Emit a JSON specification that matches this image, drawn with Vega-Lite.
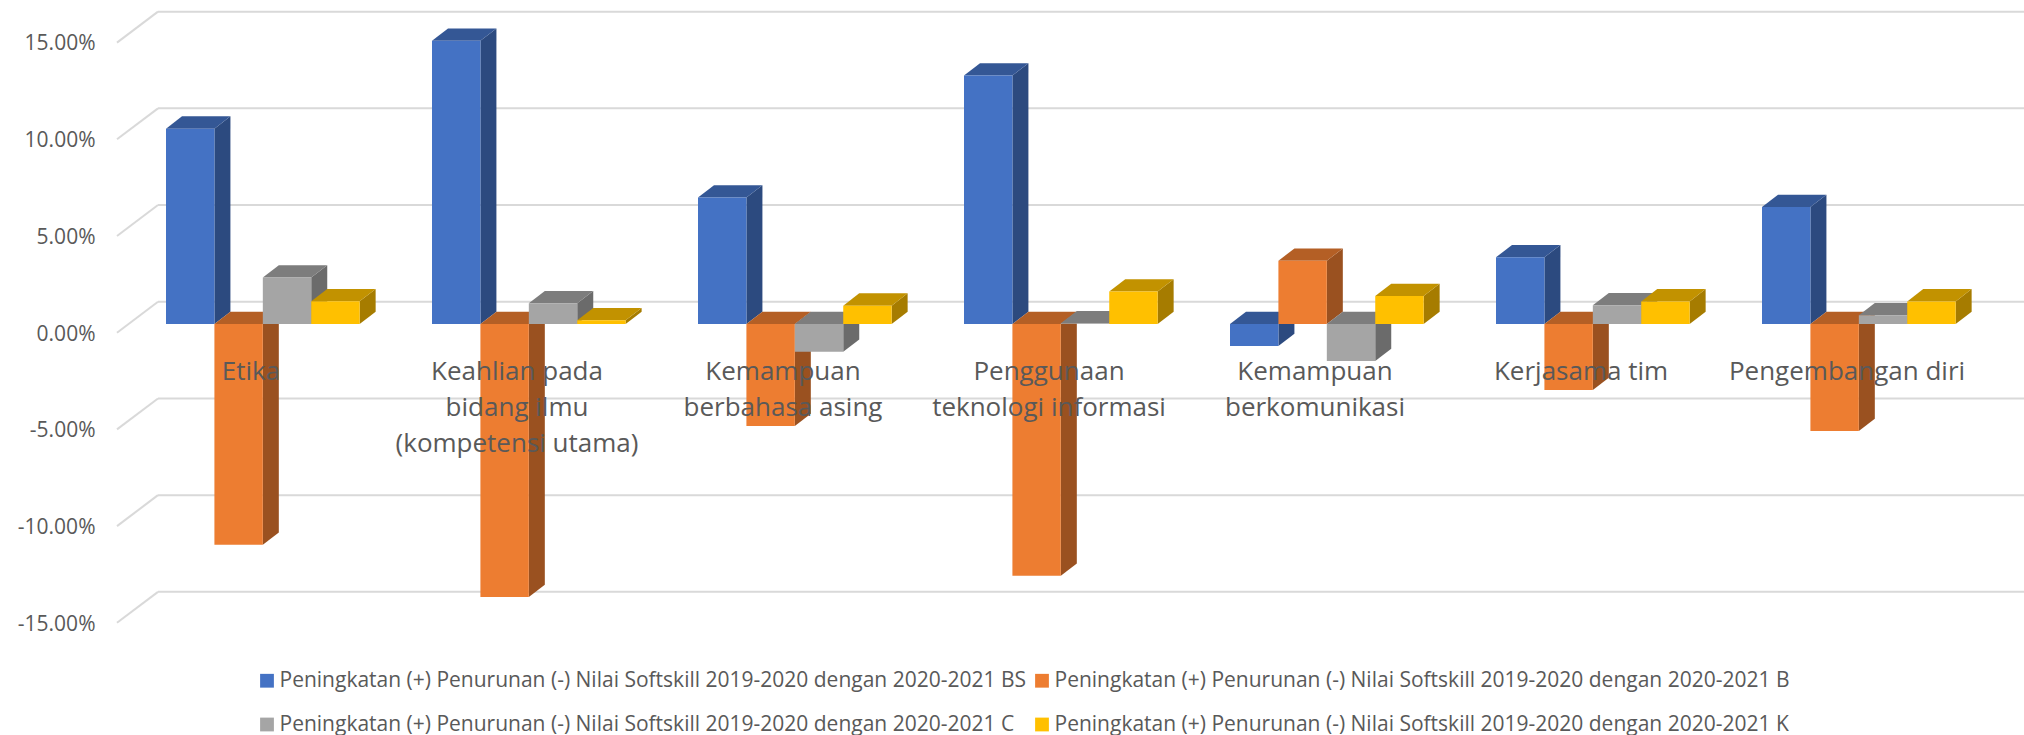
{
"$schema":"https://vega.github.io/schema/vega-lite/v6.json",
"width":2024,"height":735,"padding":0,"autosize":{"type":"none"},
"background":"white",
"config":{"view":{"stroke":null},"font":"Open Sans"},
"data":{"values":[
{"kategori":"Etika","seri":"Peningkatan (+) Penurunan (-) Nilai Softskill 2019-2020 dengan 2020-2021 BS","nilai":0.1010},
{"kategori":"Etika","seri":"Peningkatan (+) Penurunan (-) Nilai Softskill 2019-2020 dengan 2020-2021 B","nilai":-0.1142},
{"kategori":"Etika","seri":"Peningkatan (+) Penurunan (-) Nilai Softskill 2019-2020 dengan 2020-2021 C","nilai":0.0240},
{"kategori":"Etika","seri":"Peningkatan (+) Penurunan (-) Nilai Softskill 2019-2020 dengan 2020-2021 K","nilai":0.0118},
{"kategori":"Keahlian pada bidang ilmu (kompetensi utama)","seri":"Peningkatan (+) Penurunan (-) Nilai Softskill 2019-2020 dengan 2020-2021 BS","nilai":0.1464},
{"kategori":"Keahlian pada bidang ilmu (kompetensi utama)","seri":"Peningkatan (+) Penurunan (-) Nilai Softskill 2019-2020 dengan 2020-2021 B","nilai":-0.1412},
{"kategori":"Keahlian pada bidang ilmu (kompetensi utama)","seri":"Peningkatan (+) Penurunan (-) Nilai Softskill 2019-2020 dengan 2020-2021 C","nilai":0.0107},
{"kategori":"Keahlian pada bidang ilmu (kompetensi utama)","seri":"Peningkatan (+) Penurunan (-) Nilai Softskill 2019-2020 dengan 2020-2021 K","nilai":0.0019},
{"kategori":"Kemampuan berbahasa asing","seri":"Peningkatan (+) Penurunan (-) Nilai Softskill 2019-2020 dengan 2020-2021 BS","nilai":0.0654},
{"kategori":"Kemampuan berbahasa asing","seri":"Peningkatan (+) Penurunan (-) Nilai Softskill 2019-2020 dengan 2020-2021 B","nilai":-0.0528},
{"kategori":"Kemampuan berbahasa asing","seri":"Peningkatan (+) Penurunan (-) Nilai Softskill 2019-2020 dengan 2020-2021 C","nilai":-0.0144},
{"kategori":"Kemampuan berbahasa asing","seri":"Peningkatan (+) Penurunan (-) Nilai Softskill 2019-2020 dengan 2020-2021 K","nilai":0.0095},
{"kategori":"Penggunaan teknologi informasi","seri":"Peningkatan (+) Penurunan (-) Nilai Softskill 2019-2020 dengan 2020-2021 BS","nilai":0.1285},
{"kategori":"Penggunaan teknologi informasi","seri":"Peningkatan (+) Penurunan (-) Nilai Softskill 2019-2020 dengan 2020-2021 B","nilai":-0.1302},
{"kategori":"Penggunaan teknologi informasi","seri":"Peningkatan (+) Penurunan (-) Nilai Softskill 2019-2020 dengan 2020-2021 C","nilai":0.0004},
{"kategori":"Penggunaan teknologi informasi","seri":"Peningkatan (+) Penurunan (-) Nilai Softskill 2019-2020 dengan 2020-2021 K","nilai":0.0168},
{"kategori":"Kemampuan berkomunikasi","seri":"Peningkatan (+) Penurunan (-) Nilai Softskill 2019-2020 dengan 2020-2021 BS","nilai":-0.0114},
{"kategori":"Kemampuan berkomunikasi","seri":"Peningkatan (+) Penurunan (-) Nilai Softskill 2019-2020 dengan 2020-2021 B","nilai":0.0327},
{"kategori":"Kemampuan berkomunikasi","seri":"Peningkatan (+) Penurunan (-) Nilai Softskill 2019-2020 dengan 2020-2021 C","nilai":-0.0191},
{"kategori":"Kemampuan berkomunikasi","seri":"Peningkatan (+) Penurunan (-) Nilai Softskill 2019-2020 dengan 2020-2021 K","nilai":0.0145},
{"kategori":"Kerjasama tim","seri":"Peningkatan (+) Penurunan (-) Nilai Softskill 2019-2020 dengan 2020-2021 BS","nilai":0.0345},
{"kategori":"Kerjasama tim","seri":"Peningkatan (+) Penurunan (-) Nilai Softskill 2019-2020 dengan 2020-2021 B","nilai":-0.0341},
{"kategori":"Kerjasama tim","seri":"Peningkatan (+) Penurunan (-) Nilai Softskill 2019-2020 dengan 2020-2021 C","nilai":0.0097},
{"kategori":"Kerjasama tim","seri":"Peningkatan (+) Penurunan (-) Nilai Softskill 2019-2020 dengan 2020-2021 K","nilai":0.0117},
{"kategori":"Pengembangan diri","seri":"Peningkatan (+) Penurunan (-) Nilai Softskill 2019-2020 dengan 2020-2021 BS","nilai":0.0605},
{"kategori":"Pengembangan diri","seri":"Peningkatan (+) Penurunan (-) Nilai Softskill 2019-2020 dengan 2020-2021 B","nilai":-0.0553},
{"kategori":"Pengembangan diri","seri":"Peningkatan (+) Penurunan (-) Nilai Softskill 2019-2020 dengan 2020-2021 C","nilai":0.0045},
{"kategori":"Pengembangan diri","seri":"Peningkatan (+) Penurunan (-) Nilai Softskill 2019-2020 dengan 2020-2021 K","nilai":0.0117}
]},
"transform":[
{"calculate":"indexof(['Etika','Keahlian pada bidang ilmu (kompetensi utama)','Kemampuan berbahasa asing','Penggunaan teknologi informasi','Kemampuan berkomunikasi','Kerjasama tim','Pengembangan diri'],datum.kategori)","as":"i"},
{"calculate":"indexof(['BS','B','C','K'],split(datum.seri,' ')[9])","as":"j"},
{"calculate":"datum.i+datum.j*0.182","as":"xa"},
{"calculate":"datum.xa+0.182","as":"xb"},
{"calculate":"max(datum.nilai,0)","as":"puncak"},
{"calculate":"min(datum.nilai,0)","as":"dasar"}
],
"layer":[
{"data":{"values":[{"tick":-0.15},{"tick":-0.10},{"tick":-0.05},{"tick":0},{"tick":0.05},{"tick":0.10},{"tick":0.15}]},
 "transform":[{"calculate":"datum.tick+0.0115","as":"belakang"}],
 "mark":{"type":"rule","color":"#d9d9d9","strokeWidth":2},
 "encoding":{
  "x":{"datum":-0.0301,"type":"quantitative","scale":{"domain":[-0.62406,6.98496],"nice":false,"zero":false},"axis":null},
  "x2":{"datum":6.98496},
  "y":{"field":"belakang","type":"quantitative","scale":{"domain":[-0.21251,0.16753],"nice":false,"zero":false},"axis":null}
 }},
{"data":{"values":[{"tick":-0.15},{"tick":-0.10},{"tick":-0.05},{"tick":0},{"tick":0.05},{"tick":0.10},{"tick":0.15}]},
 "transform":[{"calculate":"datum.tick+0.0115","as":"belakang"},{"calculate":"datum.tick-0.0045","as":"depan"}],
 "mark":{"type":"rule","color":"#d9d9d9","strokeWidth":2},
 "encoding":{
  "x":{"datum":-0.1842,"type":"quantitative","scale":{"domain":[-0.62406,6.98496],"nice":false,"zero":false},"axis":null},
  "x2":{"datum":-0.0301},
  "y":{"field":"depan","type":"quantitative","scale":{"domain":[-0.21251,0.16753],"nice":false,"zero":false},"axis":null},
  "y2":{"field":"belakang"}
 }},
{"transform":[{"calculate":"[0,1]","as":"t"},{"flatten":["t"]},
  {"calculate":"datum.xb+datum.t*0.06015","as":"sx"},
  {"calculate":"datum.puncak+datum.t*0.00636","as":"sy"},
  {"calculate":"datum.dasar+datum.t*0.00636","as":"sy2"}],
 "mark":{"type":"area","orient":"vertical"},
 "encoding":{
  "x":{"field":"sx","type":"quantitative","scale":{"domain":[-0.62406,6.98496],"nice":false,"zero":false},"axis":null},
  "y":{"field":"sy","type":"quantitative","stack":null,"scale":{"domain":[-0.21251,0.16753],"nice":false,"zero":false},"axis":null},
  "y2":{"field":"sy2"},
  "detail":{"field":"kategori"},
  "color":{"field":"seri","type":"nominal","sort":null,"legend":null,"scale":{"domain":["Peningkatan (+) Penurunan (-) Nilai Softskill 2019-2020 dengan 2020-2021 BS","Peningkatan (+) Penurunan (-) Nilai Softskill 2019-2020 dengan 2020-2021 B","Peningkatan (+) Penurunan (-) Nilai Softskill 2019-2020 dengan 2020-2021 C","Peningkatan (+) Penurunan (-) Nilai Softskill 2019-2020 dengan 2020-2021 K"],"range":["#2c4a7f","#9a5120","#6b6b6b","#a67c00"]}}
 }},
{"transform":[{"calculate":"[0,1]","as":"t"},{"flatten":["t"]},
  {"calculate":"datum.xa+datum.t*0.06015","as":"tx"},
  {"calculate":"datum.xb+datum.t*0.06015","as":"tx2"},
  {"calculate":"datum.puncak+datum.t*0.00636","as":"ty"}],
 "mark":{"type":"area","orient":"horizontal"},
 "encoding":{
  "y":{"field":"ty","type":"quantitative","scale":{"domain":[-0.21251,0.16753],"nice":false,"zero":false},"axis":null},
  "x":{"field":"tx","type":"quantitative","stack":null,"scale":{"domain":[-0.62406,6.98496],"nice":false,"zero":false},"axis":null},
  "x2":{"field":"tx2"},
  "detail":{"field":"kategori"},
  "color":{"field":"seri","type":"nominal","sort":null,"legend":null,"scale":{"domain":["Peningkatan (+) Penurunan (-) Nilai Softskill 2019-2020 dengan 2020-2021 BS","Peningkatan (+) Penurunan (-) Nilai Softskill 2019-2020 dengan 2020-2021 B","Peningkatan (+) Penurunan (-) Nilai Softskill 2019-2020 dengan 2020-2021 C","Peningkatan (+) Penurunan (-) Nilai Softskill 2019-2020 dengan 2020-2021 K"],"range":["#345795","#b45f25","#7d7d7d","#c29200"]}}
 }},
{"mark":{"type":"rect"},
 "encoding":{
  "x":{"field":"xa","type":"quantitative","scale":{"domain":[-0.62406,6.98496],"nice":false,"zero":false},"axis":null},
  "x2":{"field":"xb"},
  "y":{"field":"nilai","type":"quantitative","scale":{"domain":[-0.21251,0.16753],"nice":false,"zero":false},
   "axis":{"title":null,"values":[-0.15,-0.10,-0.05,0,0.05,0.10,0.15],"labelExpr":"replace(format(datum.value,'.2%'),'\u2212','-')","orient":"left","offset":-100,"labelOffset":10,"labelPadding":5,"domain":false,"ticks":false,"grid":false,"labelFont":"Open Sans","labelFontSize":21,"labelColor":"#595959","labelOverlap":false,"labelBound":false,"labelFlush":false}},
  "y2":{"datum":0},
  "color":{"field":"seri","type":"nominal","sort":null,
   "scale":{"domain":["Peningkatan (+) Penurunan (-) Nilai Softskill 2019-2020 dengan 2020-2021 BS","Peningkatan (+) Penurunan (-) Nilai Softskill 2019-2020 dengan 2020-2021 B","Peningkatan (+) Penurunan (-) Nilai Softskill 2019-2020 dengan 2020-2021 C","Peningkatan (+) Penurunan (-) Nilai Softskill 2019-2020 dengan 2020-2021 K"],"range":["#4472c4","#ed7d31","#a5a5a5","#ffc000"]},
   "legend":{"title":null,"orient":"none","legendX":256.5,"legendY":670,"direction":"horizontal","columns":2,"symbolType":"square","symbolSize":190,"symbolStrokeWidth":0,"labelFont":"Open Sans","labelFontSize":21,"labelColor":"#595959","labelLimit":0,"rowPadding":22,"columnPadding":5,"labelOffset":2}}
 }},
{"mark":{"type":"rule","opacity":0},
 "encoding":{
  "x":{"field":"kategori","type":"nominal","sort":null,
   "scale":{"type":"band","domain":["Etika","Keahlian pada bidang ilmu (kompetensi utama)","Kemampuan berbahasa asing","Penggunaan teknologi informasi","Kemampuan berkomunikasi","Kerjasama tim","Pengembangan diri"],"range":[118,1980],"paddingInner":0,"paddingOuter":0},
   "axis":{"title":null,"orient":"bottom","offset":-377,"zindex":1,"domain":false,"ticks":false,"grid":false,"labelAngle":0,"labelAlign":"center","labelBaseline":"top","labelPadding":0,"labelLimit":0,"labelOverlap":false,"labelBound":false,"labelFlush":false,"labelFont":"Open Sans","labelFontSize":26,"labelLineHeight":36,"labelColor":"#595959",
    "labelExpr":"{'Keahlian pada bidang ilmu (kompetensi utama)':['Keahlian pada','bidang ilmu','(kompetensi utama)'],'Kemampuan berbahasa asing':['Kemampuan','berbahasa asing'],'Penggunaan teknologi informasi':['Penggunaan','teknologi informasi'],'Kemampuan berkomunikasi':['Kemampuan','berkomunikasi']}[datum.value]||datum.value"}}
 }}
],
"resolve":{"scale":{"x":"independent","color":"independent"},"axis":{"y":"independent"}}
}
